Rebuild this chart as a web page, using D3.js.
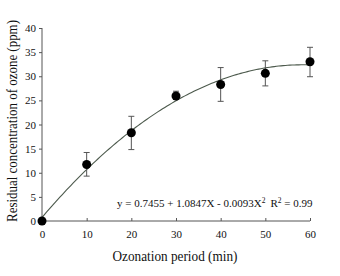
<!DOCTYPE html>
<html><head><meta charset="utf-8">
<script src="https://cdn.jsdelivr.net/npm/d3@7"></script>
<style>body{margin:0;background:#fff}svg{display:block}</style>
</head><body>
<script>
const periods = [0, 10, 20, 30, 40, 50, 60];
const ozone = [0, 11.7, 18.3, 25.9, 28.3, 30.6, 33.0];
const errLow = [0, 9.3, 14.8, 25.2, 24.8, 28.0, 29.9];
const errHigh = [0, 14.2, 21.7, 26.9, 31.8, 33.2, 36.0];
const xTicks = [0, 10, 20, 30, 40, 50, 60];
const yTicks = [0, 5, 10, 15, 20, 25, 30, 35, 40];
const coef = [0.7455, 1.0847, -0.0093];

const W = 340, H = 276;
const svg = d3.select("body").append("svg").attr("width", W).attr("height", H);
const font = "'Liberation Serif', 'Times New Roman', serif";
const x = d3.scaleLinear().domain([0, 60]).range([42, 310]);
const y = d3.scaleLinear().domain([0, 40]).range([221, 28]);

// axes
const yAxis = svg.append("g").attr("transform", "translate(42,0)")
  .call(d3.axisLeft(y).tickValues(yTicks).tickSize(3).tickPadding(3));
const xAxis = svg.append("g").attr("transform", "translate(0,221)")
  .call(d3.axisBottom(x).tickValues(xTicks).tickSize(-3).tickPadding(9));
[yAxis, xAxis].forEach(g => {
  g.select(".domain").attr("stroke", "#555").attr("stroke-width", 1);
  g.selectAll(".tick line").attr("stroke", "#555");
  g.selectAll(".tick text").attr("fill", "#111").style("font-family", font).style("font-size", "11px");
});
xAxis.select(".domain").attr("d", "M42,0H310");
yAxis.select(".domain").attr("d", "M0,28V221");

// fitted curve
const xs = d3.range(0, 60.01, 0.5);
const line = d3.line().x(d => x(d)).y(d => y(Math.max(0, coef[0] + coef[1]*d + coef[2]*d*d)));
svg.append("path").datum(xs).attr("d", line).attr("fill", "none")
  .attr("stroke", "#4d5a4d").attr("stroke-width", 1.1);

// error bars
const eb = svg.append("g").attr("stroke", "#555").attr("stroke-width", 1);
periods.forEach((p, i) => {
  if (errHigh[i] === errLow[i]) return;
  eb.append("line").attr("x1", x(p)).attr("x2", x(p)).attr("y1", y(errLow[i])).attr("y2", y(errHigh[i]));
  [errLow[i], errHigh[i]].forEach(v => eb.append("line").attr("x1", x(p)-3).attr("x2", x(p)+3).attr("y1", y(v)).attr("y2", y(v)));
});

// points
svg.append("g").selectAll("circle").data(periods).join("circle")
  .attr("cx", d => x(d)).attr("cy", (d, i) => y(ozone[i])).attr("r", 4.5).attr("fill", "#000");

// equation
const eq = svg.append("text").attr("x", 117).attr("y", 207).style("font-family", font).style("font-size", "11px").attr("fill", "#111");
eq.append("tspan").text("y = 0.7455 + 1.0847X - 0.0093X");
eq.append("tspan").attr("dy", -4).style("font-size", "7.5px").text("2");
eq.append("tspan").attr("dy", 4).attr("dx", 5).text("R");
eq.append("tspan").attr("dy", -4).style("font-size", "7.5px").text("2");
eq.append("tspan").attr("dy", 4).text(" = 0.99");

// titles
svg.append("text").attr("x", 175).attr("y", 261).attr("text-anchor", "middle")
  .attr("textLength", 125).attr("lengthAdjust", "spacingAndGlyphs")
  .style("font-family", font).style("font-size", "14px").attr("fill", "#111").text("Ozonation period (min)");
svg.append("text").attr("transform", "translate(17,121) rotate(-90)").attr("text-anchor", "middle")
  .attr("textLength", 202).attr("lengthAdjust", "spacingAndGlyphs")
  .style("font-family", font).style("font-size", "14px").attr("fill", "#111").text("Residual concentration of ozone (ppm)");
</script>
</body></html>
